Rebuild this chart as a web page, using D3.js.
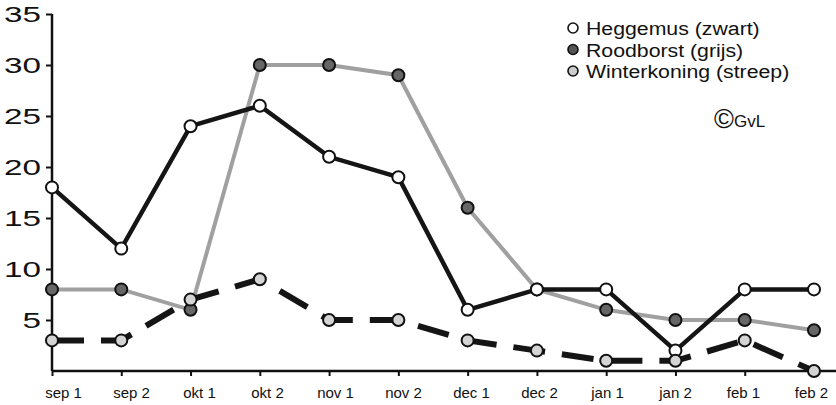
<!DOCTYPE html>
<html>
<head>
<meta charset="utf-8">
<script src="https://cdn.jsdelivr.net/npm/d3@7"></script>
<style>
  body { margin: 0; background: #fff; }
  svg { display: block; font-family: "Liberation Sans", Arial, sans-serif; }
</style>
</head>
<body>
<svg id="chart" width="836" height="405"></svg>
<script>
// periods (two per month)
const categories = ['sep 1', 'sep 2', 'okt 1', 'okt 2', 'nov 1', 'nov 2',
  'dec 1', 'dec 2', 'jan 1', 'jan 2', 'feb 1', 'feb 2'];
const heggemus = [18, 12, 24, 26, 21, 19, 6, 8, 8, 2, 8, 8];
const roodborst = [8, 8, 6, 30, 30, 29, 16, 8, 6, 5, 5, 4];
const winterkoning = [3, 3, 7, 9, 5, 5, 3, 2, 1, 1, 3, 0];
const yTicks = [5, 10, 15, 20, 25, 30, 35];
const legendLabels = ['Heggemus (zwart)', 'Roodborst (grijs)', 'Winterkoning (streep)'];

const svg = d3.select('#chart');

const x = d3.scalePoint().domain(categories).range([52, 814]);
const y = d3.scaleLinear().domain([0, 35]).range([371, 14]);

// axes
const yAxis = svg.append('g')
  .attr('transform', 'translate(52,0)')
  .call(d3.axisLeft(y).tickValues(yTicks).tickSize(6).tickPadding(5));
yAxis.select('.domain').attr('d', `M0,${y(35)}V${y(0)}`);

const xAxis = svg.append('g')
  .attr('transform', `translate(0,${y(0)})`)
  .call(d3.axisBottom(x).tickSize(5).tickPadding(11));
xAxis.select('.domain').attr('d', 'M52,0H836');

svg.selectAll('.domain').attr('stroke', '#111').attr('stroke-width', 2.5);
svg.selectAll('.tick line').attr('stroke', '#111').attr('stroke-width', 2);

// the scanned labels are wide; stretch the glyphs to match
yAxis.selectAll('text')
  .attr('font-size', 22)
  .attr('fill', '#111')
  .attr('textLength', d => String(d).length * 18.5)
  .attr('lengthAdjust', 'spacingAndGlyphs');
// labels sit on a slightly tighter spacing than the ticks
xAxis.selectAll('text')
  .attr('font-size', 15)
  .attr('fill', '#111')
  .attr('dx', (d, i) => 11 - i * 14 / 11);

const line = d3.line().x((d, i) => x(categories[i])).y(d => y(d));

const series = [
  { name: 'roodborst', values: roodborst, stroke: '#a0a0a0', width: 4, dash: null, fill: '#666' },
  { name: 'heggemus', values: heggemus, stroke: '#151515', width: 4.5, dash: null, fill: '#fff' },
  { name: 'winterkoning', values: winterkoning, stroke: '#151515', width: 6, dash: '32,17', fill: '#d4d4d4' }
];

series.forEach(s => {
  const g = svg.append('g').classed(s.name, true);
  g.append('path')
    .datum(s.values)
    .attr('d', line)
    .attr('fill', 'none')
    .attr('stroke', s.stroke)
    .attr('stroke-width', s.width)
    .attr('stroke-dasharray', s.dash);
  g.selectAll('circle')
    .data(s.values)
    .enter()
    .append('circle')
    .attr('cx', (d, i) => x(categories[i]))
    .attr('cy', d => y(d))
    .attr('r', 6)
    .attr('fill', s.fill)
    .attr('stroke', '#111')
    .attr('stroke-width', 2);
});

// legend
const legendFills = ['#fff', '#555', '#ccc'];
const legend = svg.append('g').attr('transform', 'translate(573,28)');
const rows = legend.selectAll('g')
  .data(legendLabels)
  .enter()
  .append('g')
  .attr('transform', (d, i) => `translate(0,${i * 21.5})`);
rows.append('circle')
  .attr('r', 5)
  .attr('fill', (d, i) => legendFills[i])
  .attr('stroke', '#111')
  .attr('stroke-width', 1.6);
rows.append('text')
  .attr('transform', 'translate(13,7) scale(1.12,1)')
  .attr('font-size', 19)
  .attr('fill', '#111')
  .text(d => d);

svg.append('text')
  .attr('x', 714)
  .attr('y', 128)
  .attr('fill', '#111')
  .html('<tspan font-size="27">©</tspan><tspan font-size="17" dy="-1">GvL</tspan>');
</script>
</body>
</html>
